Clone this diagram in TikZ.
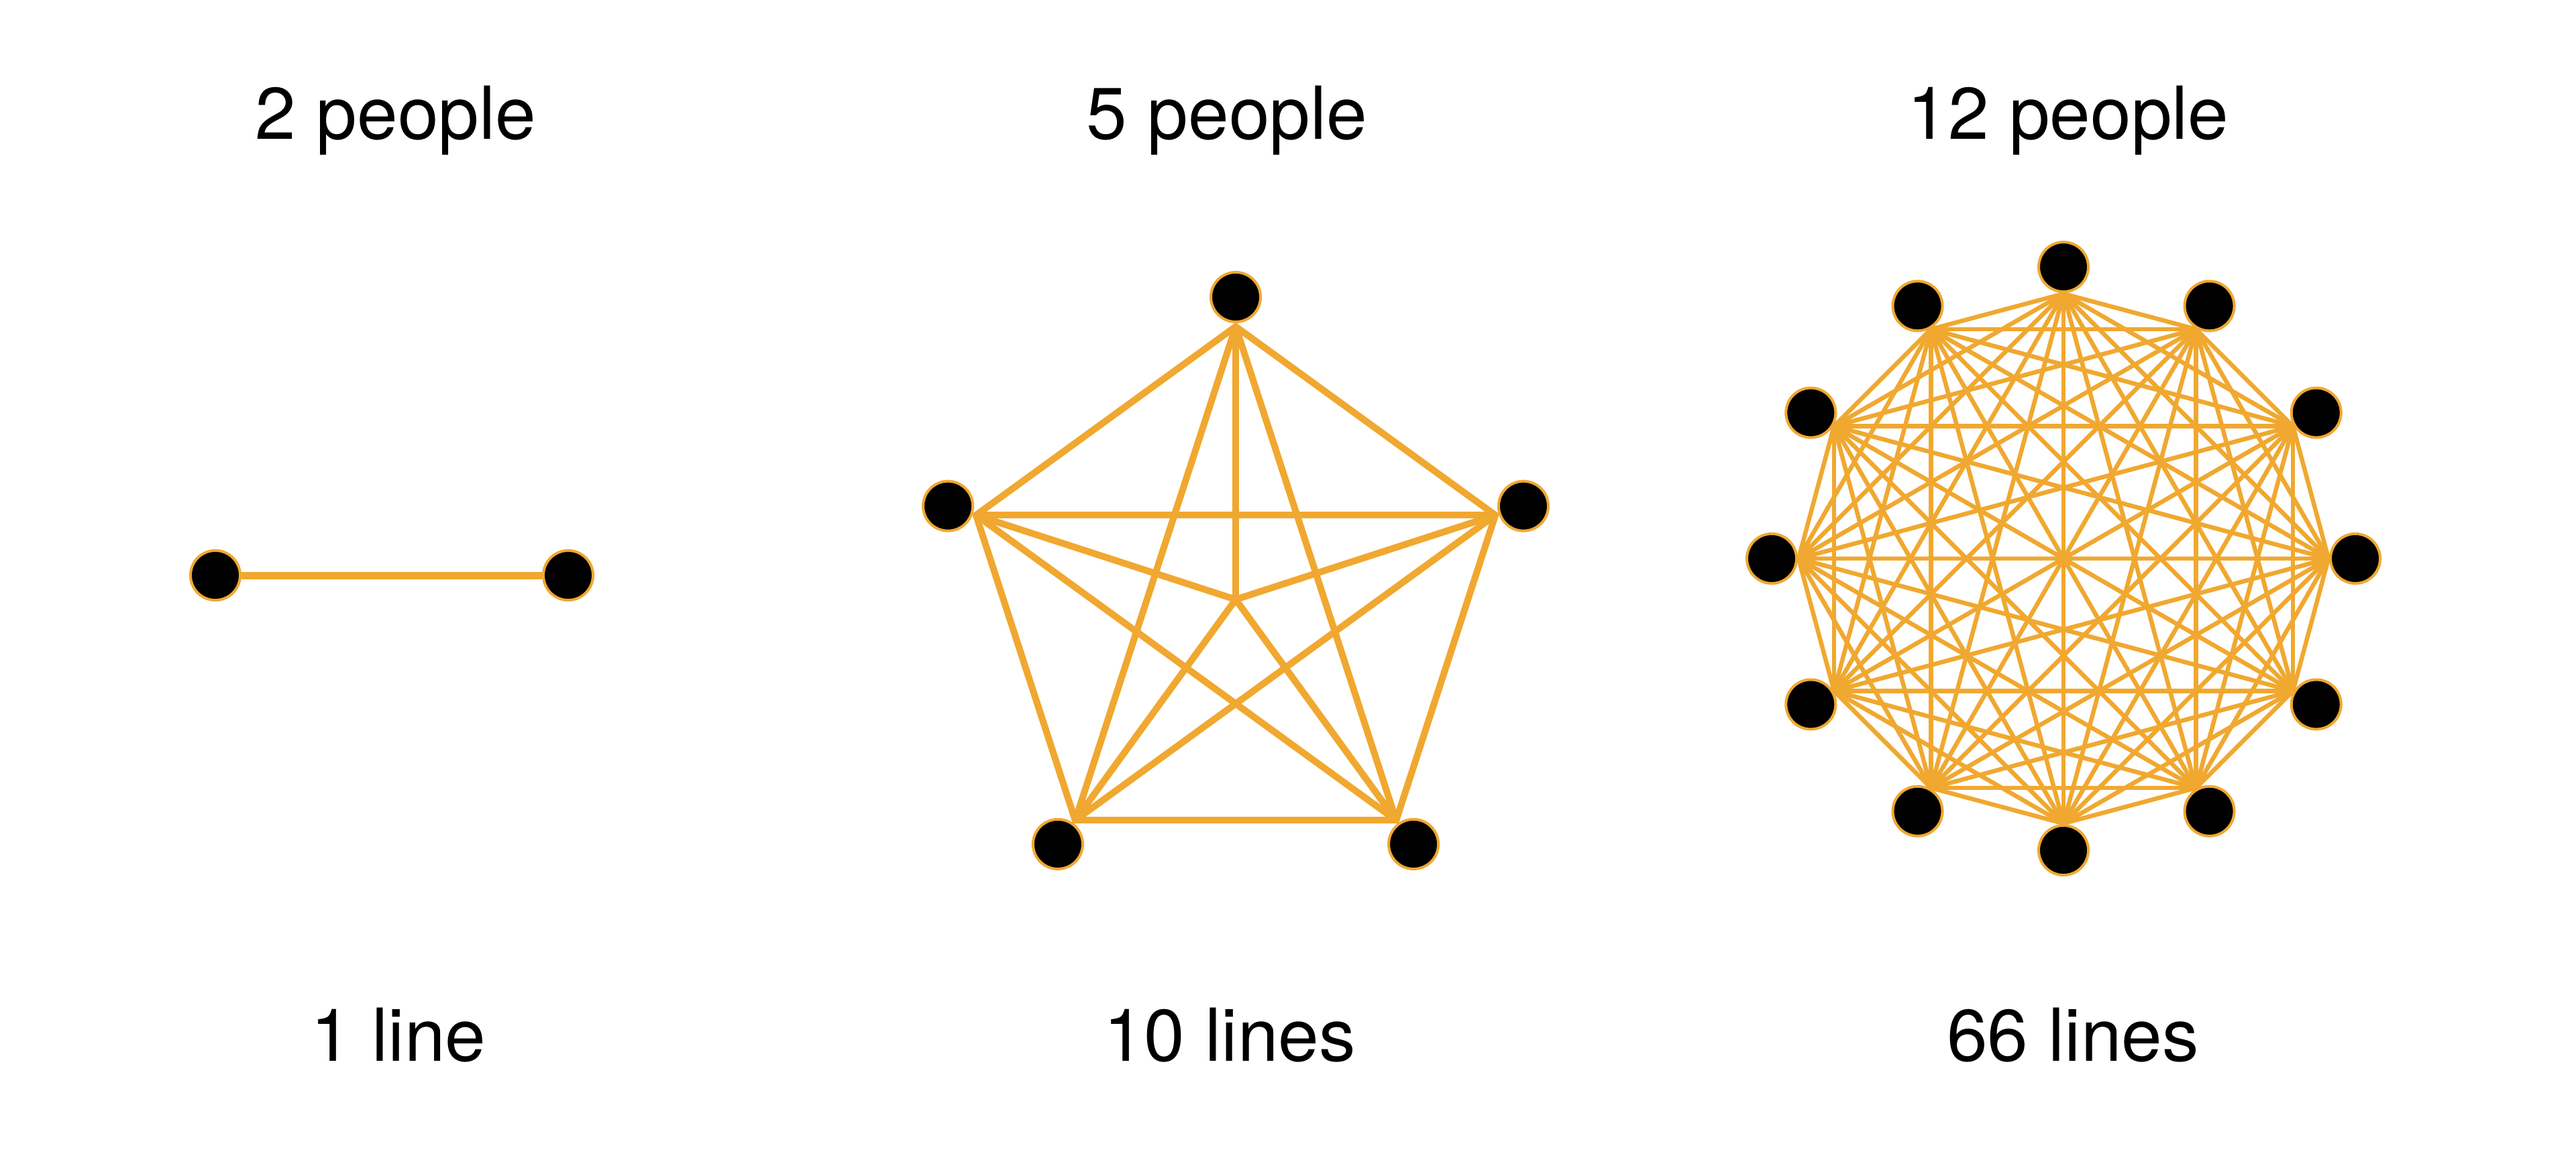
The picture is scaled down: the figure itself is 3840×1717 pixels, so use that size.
\documentclass[tikz,border=0pt]{standalone}
\usepackage{fontspec}
\setmainfont{TeX Gyre Heros}
\definecolor{edgeor}{RGB}{240,168,48}
\begin{document}
\begin{tikzpicture}[x=0.01cm,y=-0.01cm,
  caption/.style={anchor=base,inner sep=0pt,font=\fontsize{31}{37}\selectfont},
  person/.style={circle,fill=black,draw=edgeor,line width=0.04cm,minimum size=0.74cm,inner sep=0pt},
  thickedge/.style={draw=edgeor,line width=0.11cm},
  midedge/.style={draw=edgeor,line width=0.10cm,line cap=round},
  thinedge/.style={draw=edgeor,line width=0.065cm,line cap=round}]
\useasboundingbox (0,0) rectangle (3840,1717);

% captions
\node[caption] (c2) at (590,207) {2 people};
\node[caption] (c5) at (1829,207) {5 people};
\node[caption] (c12) at (3083,207) {12 people};
\node[caption] (l1) at (594,1582) {1 line};
\node[caption] (l10) at (1833,1582) {10 lines};
\node[caption] (l66) at (3090,1582) {66 lines};

% ---- 2 people
\node[person] (A1) at (321,858) {};
\node[person] (A2) at (847,858) {};
\draw[thickedge] (A1) -- (A2);

% ---- 5 people
\coordinate (pc) at (1842,894);
\foreach \k in {1,...,5} {
  \pgfmathsetmacro\ang{90+72*(\k-1)}
  \coordinate (p\k) at ({1842+407*cos(\ang)},{894-407*sin(\ang)});
}
\foreach \i in {1,...,4} {
  \pgfmathtruncatemacro\ii{\i+1}
  \foreach \j in {\ii,...,5} {\draw[midedge] (p\i) -- (p\j);}
}
\foreach \k in {1,...,5} {\draw[midedge] (pc) -- (p\k);}
\foreach \k in {1,...,5} {
  \pgfmathsetmacro\ang{90+72*(\k-1)}
  \node[person] (P\k) at ({1842+451*cos(\ang)},{894-451*sin(\ang)}) {};
}

% ---- 12 people
\foreach \k in {1,...,12} {
  \pgfmathsetmacro\ang{90+30*(\k-1)}
  \coordinate (t\k) at ({3076+395*cos(\ang)},{833-395*sin(\ang)});
}
\foreach \i in {1,...,11} {
  \pgfmathtruncatemacro\ii{\i+1}
  \foreach \j in {\ii,...,12} {\draw[thinedge] (t\i) -- (t\j);}
}
\foreach \k in {1,...,12} {
  \pgfmathsetmacro\ang{90+30*(\k-1)}
  \node[person] (T\k) at ({3076+435*cos(\ang)},{833-435*sin(\ang)}) {};
}
\end{tikzpicture}
\end{document}
